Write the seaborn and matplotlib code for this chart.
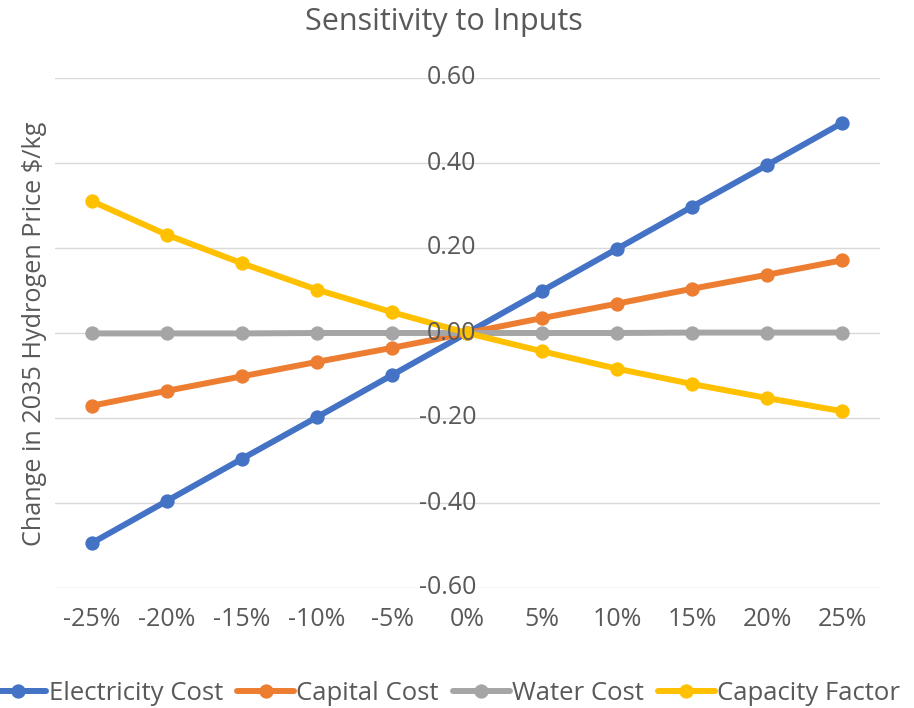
import matplotlib
matplotlib.use("Agg")
import matplotlib.pyplot as plt
import matplotlib.transforms as mtransforms
import numpy as np
import pandas as pd
import seaborn as sns

# Percentage change applied to each input
changes = [-25, -20, -15, -10, -5, 0, 5, 10, 15, 20, 25]
tick_labels = ["-25%", "-20%", "-15%", "-10%", "-5%", "0%", "5%", "10%", "15%", "20%", "25%"]

# Resulting change in the 2035 hydrogen price ($/kg)
electricity_cost = [-0.494, -0.395, -0.296, -0.198, -0.099, 0.0, 0.099, 0.198, 0.297, 0.395, 0.494]
capital_cost = [-0.171, -0.136, -0.102, -0.068, -0.035, 0.0, 0.035, 0.069, 0.104, 0.137, 0.171]
water_cost = [-0.001, -0.001, -0.001, 0.0, 0.0, 0.0, 0.0, 0.0, 0.001, 0.001, 0.001]
capacity_factor = [0.310, 0.231, 0.164, 0.102, 0.049, 0.0, -0.043, -0.084, -0.120, -0.153, -0.184]

series_names = ["Electricity Cost", "Capital Cost", "Water Cost", "Capacity Factor"]
series_values = [electricity_cost, capital_cost, water_cost, capacity_factor]
colors = ["#4472C4", "#ED7D31", "#A5A5A5", "#FFC000"]

y_ticks = [-0.6, -0.4, -0.2, 0.0, 0.2, 0.4, 0.6]

df = pd.DataFrame({
    "change": np.tile(changes, len(series_names)),
    "value": np.concatenate(series_values),
    "series": np.repeat(series_names, len(changes)),
})

sns.set_theme(style="white")
plt.rcParams["font.family"] = ["Open Sans", "DejaVu Sans"]
text_color = "#595959"

fig = plt.figure(figsize=(9.14, 7.08), dpi=100)
ax = fig.add_axes([54.5 / 914, 1 - 588 / 708, 825 / 914, 510 / 708])

sns.lineplot(
    data=df, x="change", y="value", hue="series", hue_order=series_names,
    palette=colors, marker="o", markersize=10.3, markeredgewidth=0,
    linewidth=4.3, ax=ax, legend=True, zorder=2,
)

ax.set_xlim(-27.5, 27.5)
ax.set_ylim(-0.6, 0.6)
ax.set_yticks(y_ticks)
ax.yaxis.grid(True, color="#D9D9D9", linewidth=1.0)
ax.set_axisbelow(True)
for s in ax.spines.values():
    s.set_visible(False)

ax.set_xticks(changes)
ax.set_xticklabels(tick_labels, fontsize=18, color=text_color)
ax.tick_params(axis="x", length=0, pad=14)
ax.tick_params(axis="y", length=0, labelleft=False)
ax.set_xlabel("")
ax.set_ylabel("")

# Value axis labels sit at the 0% category, right-aligned
offset = mtransforms.ScaledTranslation(9 / 100, 0, fig.dpi_scale_trans)
for v in y_ticks:
    ax.text(0, v, f"{v:.2f}", ha="right", va="center", fontsize=18,
            color=text_color, transform=ax.transData + offset, zorder=5)

fig.text(444 / 914, 1 - 22 / 708, "Sensitivity to Inputs", ha="center", va="center",
         fontsize=22, color=text_color)
fig.text(35 / 914, 1 - 334 / 708, "Change in 2035 Hydrogen Price $/kg", ha="center",
         va="center", rotation=90, fontsize=18.2, color=text_color)

handles, labels = ax.get_legend_handles_labels()
ax.get_legend().remove()
leg = fig.legend(handles, labels, loc="center", bbox_to_anchor=(0.487, 1 - 693 / 708),
                 ncol=4, frameon=False, fontsize=18.5, handlelength=2.2,
                 handletextpad=0.1, columnspacing=0.55, borderpad=0)
for t in leg.get_texts():
    t.set_color(text_color)

fig.savefig("out.png", dpi=100)
